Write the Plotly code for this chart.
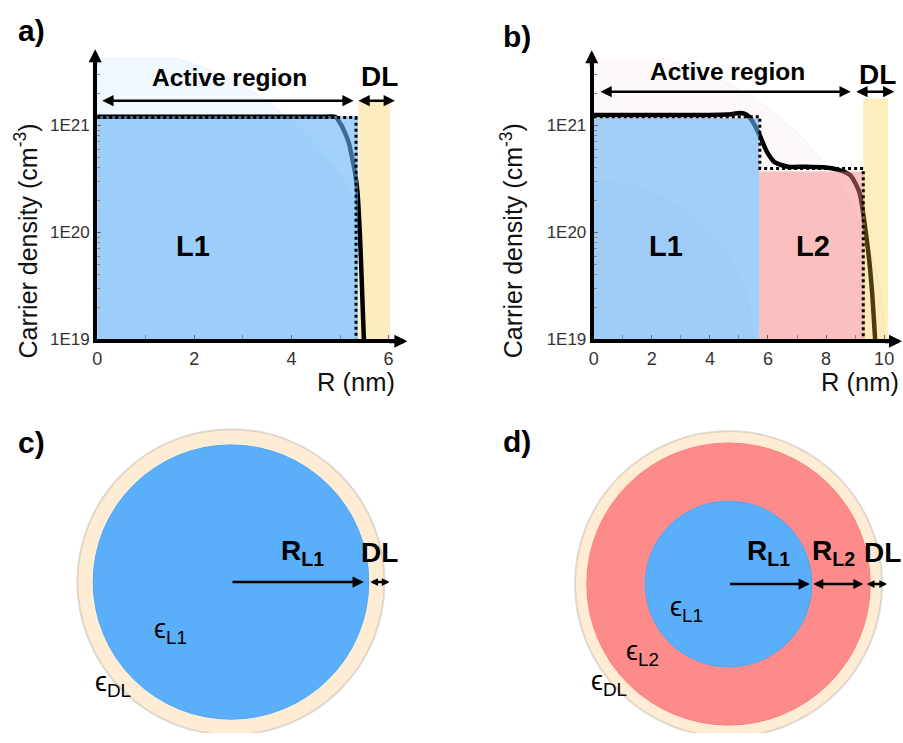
import numpy as np
import plotly.graph_objects as go

# ---------------- data ----------------
# panel a : single layer (L1) nanocrystal
a_curve_r = [0, 1, 2, 3, 4, 4.6, 4.9, 5.0, 5.07, 5.18, 5.24, 5.31, 5.36, 5.41, 5.45, 5.49, 5.51]
a_curve_n = [1.2e21, 1.2e21, 1.2e21, 1.2e21, 1.2e21, 1.2e21, 1.2e21, 1.05e21, 9.2e20, 6.9e20,
             5.2e20, 3.6e20, 2.37e20, 9.5e19, 3.3e19, 1.06e19, 8e18]
a_L1_edge = 5.37
a_L1_top = 1.22e21
a_step_r = [0, 5.33, 5.33]
a_step_n = [1.18e21, 1.18e21, 1e19]
a_dl_r = [5.38, 6.03]
a_dl_top = 1.74e21

# panel b : two layers (L1 core + L2 shell)
b_curve_r = [0, 1, 2, 3, 4, 4.6, 5.05, 5.25, 5.43, 5.73, 5.95, 6.24, 6.69, 7.3, 7.9, 8.4,
             8.84, 9.15, 9.32, 9.49, 9.59, 9.69, 9.72]
b_curve_n = [1.25e21, 1.25e21, 1.25e21, 1.25e21, 1.25e21, 1.26e21, 1.3e21, 1.26e21, 1.13e21,
             7.9e20, 5.75e20, 4.5e20, 4.1e20, 4.1e20, 4.05e20, 3.85e20, 3.4e20, 2.36e20,
             1.25e20, 5.35e19, 2.65e19, 1.0e19, 8e18]
b_L1_edge = 5.70
b_L1_top = 1.17e21
b_L2_edge = 9.33
b_L2_top = 3.7e20
b_step_r = [0, 5.72, 5.72, 9.28, 9.28]
b_step_n = [1.2e21, 1.2e21, 3.95e20, 3.95e20, 1e19]
b_dl_r = [9.28, 10.13]
b_dl_top = 1.78e21

n_floor = 1e19
y_tickvals = [1e19, 1e20, 1e21]
y_ticktext = ["1E19", "1E20", "1E21"]

# faint background circles behind the charts (radius in nm)
a_ghost_r = [6.04]
b_ghost_r = [10.0, 5.46]

# schematic circles (radii in schematic units)
c_radii = {"L1": 139, "DL": 155}
d_radii = {"L1": 84, "L2": 143, "DL": 155}

# ---------------- layout geometry ----------------
W, H = 903, 743
PPD = 108.5           # pixels per decade
Y_BOT, Y_TOP = 344, 58
A_X0, A_PPN, A_XR = 93, 49.0, 396
B_X0, B_PPN, B_XR = 594, 29.3, 894


def px(x):
    return x / W


def py(y):
    return 1 - y / H


BLUE_T = "rgba(100,178,247,0.6)"
PINK_T = "rgba(245,128,128,0.47)"
BEIGE = "#fdecbd"
BEIGE_T = "rgba(248,200,40,0.3)"
FONT = "Arial, Liberation Sans, sans-serif"

fig = go.Figure()


def rect(x0, x1, top, color, xa, ya):
    fig.add_trace(go.Scatter(x=[x0, x0, x1, x1], y=[n_floor, top, top, n_floor], fill="toself",
                             fillcolor=color, mode="lines", line=dict(width=0), hoverinfo="skip",
                             xaxis=xa, yaxis=ya))


def curve(r, n, xa, ya):
    fig.add_trace(go.Scatter(x=r, y=n, mode="lines", line=dict(color="black", width=4.5,
                             shape="spline", smoothing=0.6), xaxis=xa, yaxis=ya, hoverinfo="skip"))


def step(r, n, xa, ya):
    fig.add_trace(go.Scatter(x=r, y=n, mode="lines", line=dict(color="black", width=3,
                             dash="3px,3px"), xaxis=xa, yaxis=ya, hoverinfo="skip"))


# panel a traces
rect(a_dl_r[0], a_dl_r[1], a_dl_top, BEIGE, "x", "y")
curve(a_curve_r, a_curve_n, "x", "y")
rect(0, a_L1_edge, a_L1_top, BLUE_T, "x", "y")
step(a_step_r, a_step_n, "x", "y")

# panel b traces
curve(b_curve_r, b_curve_n, "x2", "y2")
rect(0, b_L1_edge, b_L1_top, BLUE_T, "x2", "y2")
rect(b_L1_edge, b_L2_edge, b_L2_top, PINK_T, "x2", "y2")
rect(b_dl_r[0], b_dl_r[1], b_dl_top, BEIGE_T, "x2", "y2")
step(b_step_r, b_step_n, "x2", "y2")

# ---------------- axes ----------------
def xax(x0, xr, ppn, dtick_lab):
    return dict(domain=[px(x0), px(xr)], range=[0, (xr - x0) / ppn], showline=True, linewidth=4,
                linecolor="black", ticks="inside", ticklen=4, tickwidth=1, tickcolor="#666",
                tickmode="linear", tick0=0, dtick=dtick_lab,
                minor=dict(dtick=1, ticks="inside", ticklen=4, tickwidth=1, tickcolor="#888"),
                showgrid=False, zeroline=False, tickfont=dict(family=FONT, size=18, color="#333"))


def yax(anchor):
    return dict(type="log", domain=[py(Y_BOT), py(Y_TOP)], range=[19, 19 + (Y_BOT - Y_TOP) / PPD],
                showline=True, linewidth=4, linecolor="black", tickvals=y_tickvals,
                ticktext=y_ticktext, ticks="inside", ticklen=4, tickwidth=1, tickcolor="#666",
                minor=dict(ticks="inside", ticklen=3, tickwidth=1, tickcolor="#888", dtick="D1"),
                showgrid=False, zeroline=False, anchor=anchor,
                tickfont=dict(family=FONT, size=17, color="#333"))


layout = dict(
    width=W, height=H, margin=dict(l=0, r=0, t=0, b=0), showlegend=False,
    paper_bgcolor="white", plot_bgcolor="rgba(0,0,0,0)",
    xaxis=dict(xax(A_X0, A_XR, A_PPN, 2), anchor="y"),
    yaxis=yax("x"),
    xaxis2=dict(xax(B_X0, B_XR, B_PPN, 2), anchor="y2"),
    yaxis2=yax("x2"),
    # hidden axes for schematic circles (1 unit = 1 px)
    xaxis3=dict(domain=[0, 0.5], range=[-228, 0.5 * W - 228], visible=False, anchor="y3"),
    yaxis3=dict(domain=[0, py(400)], range=[-(H - 590), 590 - 400], visible=False, anchor="x3"),
    xaxis4=dict(domain=[0.5, 1], range=[0.5 * W - 730, W - 730], visible=False, anchor="y4"),
    yaxis4=dict(domain=[0, py(400)], range=[-(H - 592), 592 - 400], visible=False, anchor="x4"),
)
fig.update_layout(**layout)

shapes = []
# faint ghost circles behind charts
for r, col, xa, ya, ppn in [(a_ghost_r[0], "rgba(90,170,250,0.08)", "x", "y", A_PPN),
                            (b_ghost_r[0], "rgba(250,140,130,0.06)", "x2", "y2", B_PPN),
                            (b_ghost_r[1], "rgba(90,170,250,0.05)", "x2", "y2", B_PPN)]:
    dec = r * ppn / PPD
    shapes.append(dict(type="circle", xref=xa, yref=ya, x0=-r, x1=r, y0=10 ** (19 - dec),
                       y1=10 ** (19 + dec), fillcolor=col, line=dict(color="rgba(150,170,200,0.12)", width=1),
                       layer="below"))

# schematic c
shapes.append(dict(type="circle", xref="x3", yref="y3", x0=-c_radii["DL"], x1=c_radii["DL"],
                   y0=-c_radii["DL"], y1=c_radii["DL"], fillcolor="#feedd4",
                   line=dict(color="rgba(0,0,0,0.12)", width=2)))
shapes.append(dict(type="circle", xref="x3", yref="y3", x0=-c_radii["L1"], x1=c_radii["L1"],
                   y0=-c_radii["L1"], y1=c_radii["L1"], fillcolor="#5aaefa",
                   line=dict(color="#4aa6fb", width=1)))
# schematic d
shapes.append(dict(type="circle", xref="x4", yref="y4", x0=-d_radii["DL"], x1=d_radii["DL"],
                   y0=-d_radii["DL"], y1=d_radii["DL"], fillcolor="#feedd4",
                   line=dict(color="rgba(0,0,0,0.12)", width=2)))
shapes.append(dict(type="circle", xref="x4", yref="y4", x0=-d_radii["L2"], x1=d_radii["L2"],
                   y0=-d_radii["L2"], y1=d_radii["L2"], fillcolor="#fd8b8b",
                   line=dict(color="#fb8080", width=1)))
shapes.append(dict(type="circle", xref="x4", yref="y4", x0=-d_radii["L1"], x1=d_radii["L1"],
                   y0=-d_radii["L1"], y1=d_radii["L1"], fillcolor="#5aaefa",
                   line=dict(color="#4aa6fb", width=1)))
fig.update_layout(shapes=shapes)

ann = []


def arrow(x, y, ax, ay, xref, yref, both=False, width=2.5, size=0.9):
    ann.append(dict(x=x, y=y, ax=ax, ay=ay, xref=xref, yref=yref, axref=xref, ayref=yref, text="",
                    showarrow=True, arrowhead=2, arrowwidth=width, arrowsize=size, arrowcolor="black",
                    arrowside="end+start" if both else "end", startarrowhead=2, startarrowsize=size,
                    standoff=0, startstandoff=0))


def paper_arrow(xpix, ypix, dx, dy, width=4, size=0.65):
    # arrowhead tip at (xpix, ypix); tail offset (dx, dy) in pixels
    ann.append(dict(x=px(xpix), y=py(ypix), xref="paper", yref="paper", ax=dx, ay=dy,
                    axref="pixel", ayref="pixel", text="", showarrow=True, arrowhead=2,
                    arrowwidth=width, arrowsize=size, arrowcolor="black", standoff=0))


def text(x, y, s, size, xref="paper", yref="paper", bold=False, angle=0, xanchor="center",
         color="black"):
    ann.append(dict(x=x, y=y, xref=xref, yref=yref, text=("<b>%s</b>" % s) if bold else s,
                    showarrow=False, textangle=angle, xanchor=xanchor, yanchor="middle",
                    font=dict(family=FONT, size=size, color=color)))


def ylog_px(ypix):
    return 19 + (Y_BOT - ypix) / PPD


# axis arrowheads
paper_arrow(A_X0 - 2, 50, 0, 18)
paper_arrow(406, Y_BOT + 2, -20, 0)
paper_arrow(B_X0 - 2, 51, 0, 18)
paper_arrow(908, Y_BOT + 2, -22, 0)

# region arrows in charts
arrow(5.28, ylog_px(102), 0.075, ylog_px(102), "x", "y", both=True)
arrow(6.13, ylog_px(102), 5.35, ylog_px(102), "x", "y", both=True)
arrow(8.85, ylog_px(93), 0.18, ylog_px(93), "x2", "y2", both=True)
arrow(10.35, ylog_px(93), 8.99, ylog_px(93), "x2", "y2", both=True)

# chart texts
text(2.73, ylog_px(79), "Active region", 24.5, "x", "y", bold=True)
text(5.82, ylog_px(78), "DL", 28, "x", "y", bold=True)
text(1.98, ylog_px(249), "L1", 29, "x", "y", bold=True)
text(4.62, ylog_px(72), "Active region", 24.5, "x2", "y2", bold=True)
text(9.76, ylog_px(76), "DL", 28, "x2", "y2", bold=True)
text(2.49, ylog_px(249), "L1", 29, "x2", "y2", bold=True)
text(7.54, ylog_px(249), "L2", 29, "x2", "y2", bold=True)

# axis titles
text(px(396), py(387), "R (nm)", 25.5, xanchor="right", color="#111")
text(px(904), py(387), "R (nm)", 25.5, xanchor="right", color="#111")
text(px(21), py(244), "Carrier density (cm<sup>-3</sup>)", 25, angle=-90, color="#111")
text(px(511), py(244), "Carrier density (cm<sup>-3</sup>)", 25, angle=-90, color="#111")

# panel letters
text(px(27), py(31), "a)", 30, bold=True)
text(px(517), py(37), "b)", 30, bold=True)
text(px(27), py(449), "c)", 30, bold=True)
text(px(517), py(448), "d)", 30, bold=True)

# schematic c arrows and labels
arrow(134, 0, 0, 0, "x3", "y3", width=2.5)
arrow(160, 0, 139, 0, "x3", "y3", both=True, width=2.5, size=0.62)
text(72, 30, "R<sub>L1</sub>", 28, "x3", "y3", bold=True)
text(150, 30, "DL", 28, "x3", "y3", bold=True)
text(-61, -50, "ϵ<sub>L1</sub>", 27, "x3", "y3")
text(-119, -103, "ϵ<sub>DL</sub>", 27, "x3", "y3")

# schematic d arrows and labels
arrow(82, 0, 0, 0, "x4", "y4", width=2.5)
arrow(136, 0, 84, 0, "x4", "y4", both=True, width=2.5, size=0.8)
arrow(160, 0, 138, 0, "x4", "y4", both=True, width=2.5, size=0.62)
text(40, 32, "R<sub>L1</sub>", 28, "x4", "y4", bold=True)
text(106, 32, "R<sub>L2</sub>", 28, "x4", "y4", bold=True)
text(155, 32, "DL", 28, "x4", "y4", bold=True)
text(-42, -25, "ϵ<sub>L1</sub>", 27, "x4", "y4")
text(-87, -70, "ϵ<sub>L2</sub>", 27, "x4", "y4")
text(-121, -100, "ϵ<sub>DL</sub>", 27, "x4", "y4")

fig.update_layout(annotations=ann)
fig.write_html("out.html")
